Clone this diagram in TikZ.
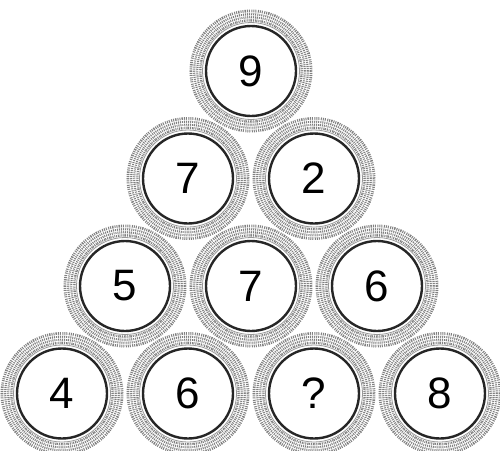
\documentclass[tikz,border=0pt]{standalone}
\usepackage{fontspec}
\setmainfont{Liberation Sans}
\begin{document}
\begin{tikzpicture}[x=1pt,y=-1pt,
  ball/.style={circle, draw=black!85, line width=2.4pt, fill=white, minimum size=90pt, inner sep=0pt, font=\fontsize{44}{44}\selectfont},
  ringdots/.style={draw=black!50, line width=12pt, dash pattern=on 1pt off 1pt},
  ringgap/.style={draw=white, line width=0.7pt},
  ringin/.style={draw=black!40, line width=0.8pt}]
\useasboundingbox (0,0) rectangle (500,450);
\coordinate (p1) at (251,71);
\coordinate (p21) at (188,178.5);
\coordinate (p22) at (314,178.5);
\coordinate (p31) at (125,286);
\coordinate (p32) at (251,286);
\coordinate (p33) at (377,286);
\coordinate (p41) at (62,393.5);
\coordinate (p42) at (188,393.5);
\coordinate (p43) at (314,393.5);
\coordinate (p44) at (440,393.5);
\foreach \p in {p1,p21,p22,p31,p32,p33,p41,p42,p43,p44} {
  \draw[ringdots] (\p) circle[radius=55.5pt];
  \foreach \r in {52.3,55.3,58.3} \draw[ringgap] (\p) circle[radius=\r pt];
  \draw[ringin] (\p) circle[radius=48.5pt];
}
\node[ball] (n1) at (p1) {9};
\node[ball] (n21) at (p21) {7};
\node[ball] (n22) at (p22) {2};
\node[ball] (n31) at (p31) {5};
\node[ball] (n32) at (p32) {7};
\node[ball] (n33) at (p33) {6};
\node[ball] (n41) at (p41) {4};
\node[ball] (n42) at (p42) {6};
\node[ball] (n43) at (p43) {?};
\node[ball] (n44) at (p44) {8};
\end{tikzpicture}
\end{document}
